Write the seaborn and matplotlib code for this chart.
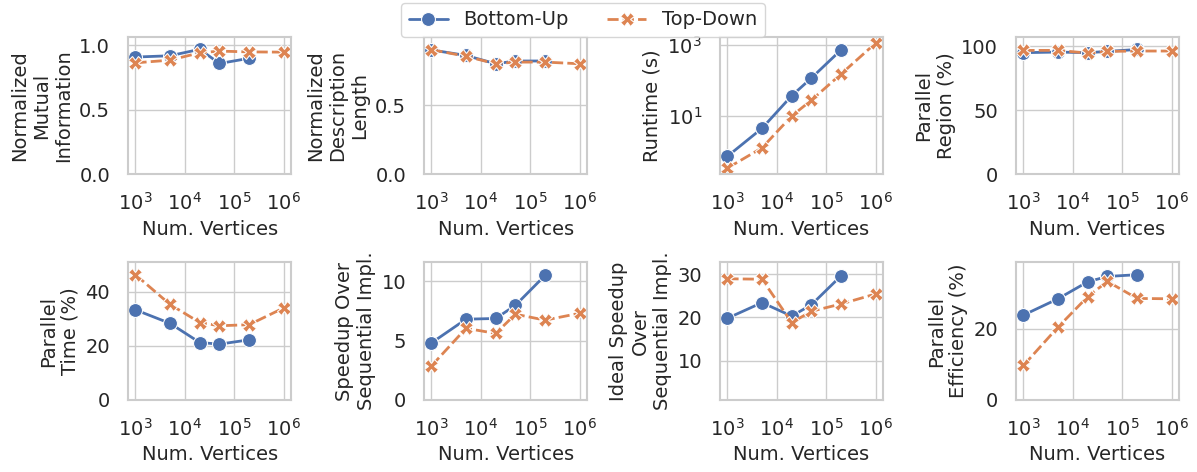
import matplotlib

matplotlib.use("Agg")

import matplotlib.pyplot as plt
import numpy as np
import pandas as pd
import seaborn as sns

# number of vertices in each synthetic graph
vertices_bu = [1000, 5000, 20000, 50000, 200000]
vertices_td = [1000, 5000, 20000, 50000, 200000, 1000000]

# Bottom-Up values (no run at 1e6)
nmi_bu = [0.91, 0.92, 0.97, 0.86, 0.90]
ndl_bu = [0.90, 0.86, 0.80, 0.82, 0.82]
runtime_bu = [0.74, 4.5, 37.0, 116.0, 720.0]
par_region_bu = [95.0, 95.5, 95.0, 96.0, 97.5]
par_time_bu = [33.3, 28.3, 21.2, 20.6, 22.2]
speedup_bu = [4.8, 6.8, 6.86, 7.97, 10.5]
ideal_speedup_bu = [19.8, 23.4, 20.3, 22.9, 29.6]
efficiency_bu = [23.9, 28.5, 33.3, 34.8, 35.3]

# Top-Down values
nmi_td = [0.865, 0.886, 0.943, 0.956, 0.95, 0.948]
ndl_td = [0.902, 0.854, 0.80, 0.812, 0.812, 0.80]
runtime_td = [0.345, 1.27, 10.0, 27.7, 151.0, 1114.0]
par_region_td = [96.8, 96.8, 94.7, 96.0, 96.3, 96.3]
par_time_td = [46.3, 35.3, 28.6, 27.4, 27.8, 34.0]
speedup_td = [2.86, 6.03, 5.6, 7.22, 6.72, 7.3]
ideal_speedup_td = [28.9, 28.8, 18.8, 21.4, 23.1, 25.4]
efficiency_td = [9.7, 20.5, 29.1, 33.4, 28.6, 28.5]

metrics = [
    ("Normalized\nMutual\nInformation", nmi_bu, nmi_td, (0, 1.067), False),
    ("Normalized\nDescription\nLength", ndl_bu, ndl_td, (0, 0.995), False),
    ("Runtime (s)", runtime_bu, runtime_td, None, True),
    ("Parallel\nRegion (%)", par_region_bu, par_region_td, (0, 107.4), False),
    ("Parallel\nTime (%)", par_time_bu, par_time_td, (0, 50.9), False),
    ("Speedup Over\nSequential Impl.", speedup_bu, speedup_td, (0, 11.6), False),
    ("Ideal Speedup\nOver\nSequential Impl.", ideal_speedup_bu, ideal_speedup_td, (1.0, 32.7), False),
    ("Parallel\nEfficiency (%)", efficiency_bu, efficiency_td, (0, 38.8), False),
]

sns.set_theme(style="whitegrid")
plt.rcParams.update({
    "font.size": 14,
    "axes.labelsize": 14,
    "xtick.labelsize": 14,
    "ytick.labelsize": 14,
    "legend.fontsize": 14,
    "axes.linewidth": 1.5,
})

fig, axes = plt.subplots(2, 4, figsize=(11.97, 4.72), dpi=100)
fig.subplots_adjust(left=0.107, right=0.985, top=0.922, bottom=0.153,
                    wspace=0.816, hspace=0.64)

for ax, (label, bu, td, ylim, logy) in zip(axes.flat, metrics):
    df = pd.DataFrame({
        "Num. Vertices": vertices_bu + vertices_td,
        "value": bu + td,
        "Method": ["Bottom-Up"] * len(bu) + ["Top-Down"] * len(td),
    })
    sns.lineplot(data=df, x="Num. Vertices", y="value", hue="Method",
                 style="Method", markers=True, markersize=10, linewidth=2,
                 ax=ax)
    ax.set_xscale("log")
    ax.set_xticks([1e3, 1e4, 1e5, 1e6])
    ax.minorticks_off()
    if logy:
        ax.set_yscale("log")
        ax.set_yticks([10, 1000])
        ax.minorticks_off()
    else:
        ax.set_ylim(*ylim)
    ax.set_ylabel(label, multialignment="center")
    ax.tick_params(axis="x", pad=7)
    ax.tick_params(axis="y", pad=7)
    handles, labels = ax.get_legend_handles_labels()
    ax.get_legend().remove()

fig.legend(handles, labels, loc="upper center", ncol=2,
           bbox_to_anchor=(0.487, 1.015), frameon=True, columnspacing=2.0)

fig.savefig("out.png", dpi=100)
